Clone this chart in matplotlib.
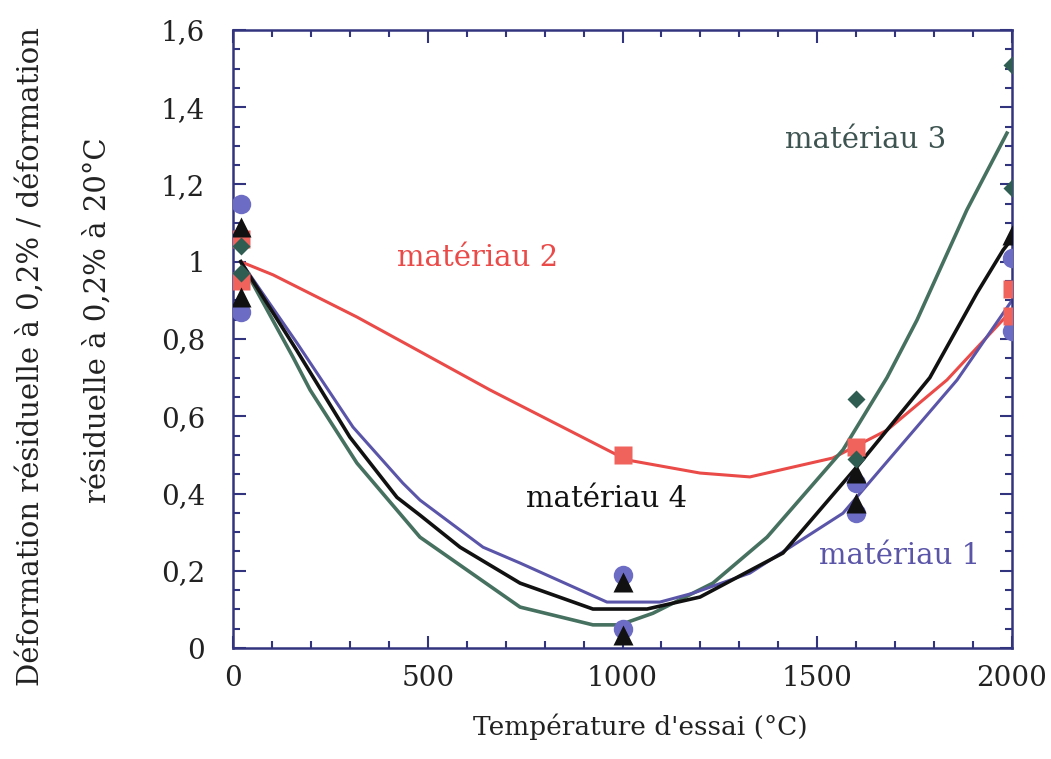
import matplotlib
matplotlib.use("Agg")
import matplotlib.pyplot as plt
from matplotlib.ticker import MultipleLocator, FuncFormatter

plt.rcParams['font.family'] = ['DejaVu Serif']

# points mesures (temperature, rapport)
m1_x = [20, 20, 1000, 1000, 1600, 1600, 2000, 2000]
m1_y = [1.15, 0.87, 0.19, 0.05, 0.427, 0.35, 1.01, 0.82]
m2_x = [20, 20, 1000, 1600, 2000, 2000]
m2_y = [1.06, 0.95, 0.50, 0.52, 0.93, 0.86]
m3_x = [20, 20, 1600, 1600, 2000, 2000]
m3_y = [1.04, 0.97, 0.645, 0.49, 1.51, 1.19]
m4_x = [20, 20, 1000, 1000, 1600, 1600, 2000]
m4_y = [1.09, 0.91, 0.17, 0.035, 0.453, 0.375, 1.07]

# courbes de tendance
c1_x = [20, 164, 308, 436, 480, 642, 737, 960, 1096, 1181, 1327, 1566, 1712, 1859, 2000]
c1_y = [1.0, 0.79, 0.572, 0.427, 0.383, 0.261, 0.22, 0.119, 0.119, 0.142, 0.194, 0.349, 0.521, 0.694, 0.90]
c2_x = [20, 103, 318, 472, 660, 1011, 1199, 1327, 1540, 1679, 1833, 2000]
c2_y = [1.0, 0.966, 0.857, 0.772, 0.668, 0.487, 0.453, 0.443, 0.492, 0.564, 0.694, 0.875]
c3_x = [20, 154, 198, 318, 480, 737, 924, 993, 1078, 1232, 1371, 1566, 1679, 1756, 1884, 1987]
c3_y = [1.0, 0.753, 0.668, 0.479, 0.287, 0.106, 0.06, 0.06, 0.09, 0.168, 0.287, 0.513, 0.70, 0.849, 1.134, 1.333]
c4_x = [20, 164, 300, 421, 480, 583, 737, 924, 1063, 1199, 1412, 1610, 1789, 1910, 1977, 2000]
c4_y = [1.0, 0.77, 0.546, 0.39, 0.344, 0.261, 0.168, 0.101, 0.101, 0.132, 0.246, 0.479, 0.70, 0.919, 1.03, 1.06]

names = ['matériau 1', 'matériau 2', 'matériau 3', 'matériau 4']

blue = '#5a55a8'
red = '#ea4a48'
green = '#46705f'
black = '#111111'
navy = '#33347e'

fig = plt.figure(figsize=(10.51, 7.59), dpi=100)
ax = fig.add_axes([0.2217, 0.1462, 0.7412, 0.8143])

ax.plot(c2_x, c2_y, color=red, lw=2.2, zorder=2)
ax.plot(c3_x, c3_y, color=green, lw=2.6, zorder=2)
ax.plot(c1_x, c1_y, color=blue, lw=2.2, zorder=2)
ax.plot(c4_x, c4_y, color=black, lw=2.6, zorder=2)

ax.plot(m1_x, m1_y, 'o', color='#6d6cc4', ms=14, mec='none', zorder=3)
ax.plot(m2_x, m2_y, 's', color='#f0625c', ms=13, mec='none', zorder=4)
ax.plot(m4_x, m4_y, '^', color=black, ms=15, mec='none', zorder=5)
ax.plot(m3_x, m3_y, 'D', color='#2f5d52', ms=9, mec='none', zorder=6)

ax.text(629, 1.01, names[1], color=red, fontsize=21, ha='center', va='center')
ax.text(1623, 1.315, names[2], color='#3d5450', fontsize=21, ha='center', va='center')
ax.text(958, 0.385, names[3], color=black, fontsize=21, ha='center', va='center')
ax.text(1712, 0.238, names[0], color=blue, fontsize=21, ha='center', va='center')

ax.set_xlim(0, 2000)
ax.set_ylim(0, 1.6)
ax.xaxis.set_major_locator(MultipleLocator(500))
ax.xaxis.set_minor_locator(MultipleLocator(100))
ax.yaxis.set_major_locator(MultipleLocator(0.2))
ax.yaxis.set_minor_locator(MultipleLocator(0.05))

def fmt(v, pos):
    s = ('%.1f' % v).rstrip('0').rstrip('.')
    return s.replace('.', ',')
ax.yaxis.set_major_formatter(FuncFormatter(fmt))

ax.tick_params(which='both', direction='in', top=True, right=True, color=navy, width=1.5)
ax.tick_params(which='major', length=9, labelsize=20, labelcolor='#222222')
ax.tick_params(which='minor', length=5)
ax.tick_params(axis='x', pad=12)
ax.tick_params(axis='y', pad=20)
for s in ax.spines.values():
    s.set_color(navy)
    s.set_linewidth(1.8)

fig.text(640 / 1051, 1 - 727 / 759, "Température d'essai (°C)", fontsize=19,
         ha='center', va='center', color='#222222')
fig.text(30 / 1051, 1 - 357 / 759, 'Déformation résiduelle à 0,2% / déformation',
         rotation=90, fontsize=21, ha='center', va='center', color='#222222')
fig.text(97 / 1051, 1 - 320 / 759, 'résiduelle à 0,2% à 20°C',
         rotation=90, fontsize=21, ha='center', va='center', color='#222222')

fig.savefig('out.png', dpi=100)
